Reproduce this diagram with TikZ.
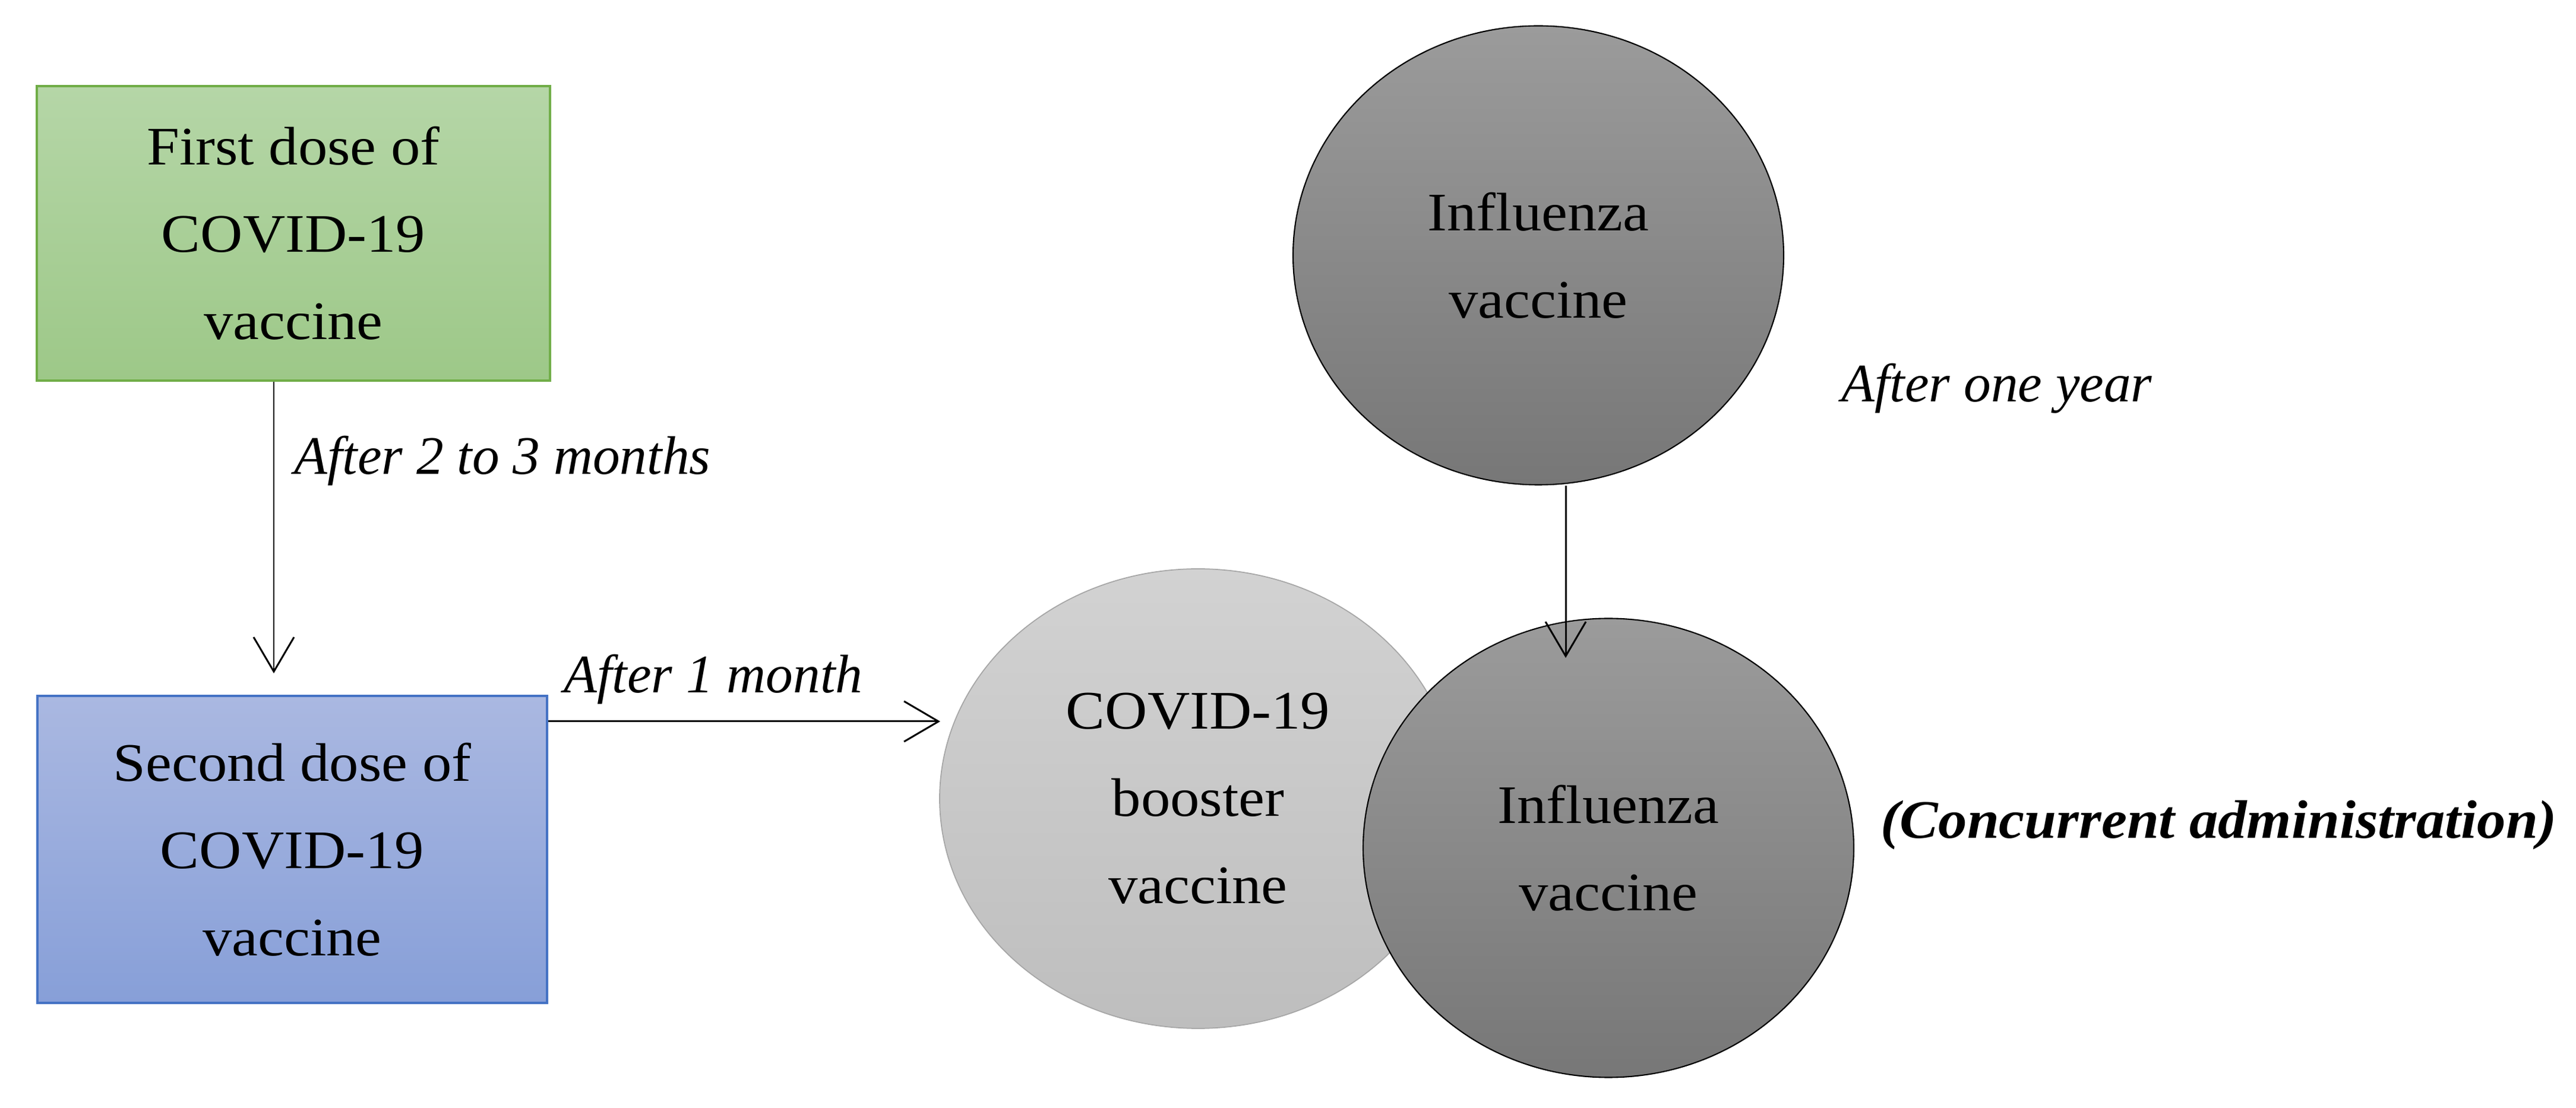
\documentclass[tikz,border=0pt]{standalone}
\usepackage{fontspec}
\setmainfont{Liberation Serif}[UprightFeatures={FakeStretch=1.08},BoldItalicFeatures={FakeStretch=1.06}]
\usetikzlibrary{shapes.geometric,arrows.meta}
\definecolor{greenTop}{HTML}{B5D6A7}
\definecolor{greenBot}{HTML}{9DC888}
\definecolor{greenLine}{HTML}{70AD47}
\definecolor{blueTop}{HTML}{AAB8E1}
\definecolor{blueBot}{HTML}{879FD8}
\definecolor{blueLine}{HTML}{4472C4}
\definecolor{lightTop}{HTML}{D2D2D2}
\definecolor{lightBot}{HTML}{BEBEBE}
\definecolor{lightLine}{HTML}{A6A6A6}
\definecolor{darkTop}{HTML}{9B9B9B}
\definecolor{darkBot}{HTML}{777777}
\tikzset{
  maintext/.style={font=\fontsize{26}{41.8}\selectfont, align=center, text=black},
  dosebox/.style={rectangle, maintext, inner sep=0pt, line width=1pt},
  vacell/.style={ellipse, maintext, inner sep=0pt},
  lbl/.style={font=\fontsize{26}{30}\selectfont\itshape, anchor=base west, inner sep=0pt},
  conn/.style={line width=0.85pt, -{Straight Barb[length=0.58cm,width=0.68cm,line width=0.85pt]}}
}
\begin{document}
\begin{tikzpicture}
\useasboundingbox (0,0) rectangle (43.37,-18.66);
% boxes
\node[dosebox, draw=greenLine, top color=greenTop, bottom color=greenBot,
      minimum width=8.64cm, minimum height=4.96cm] (first) at (4.94,-3.93)
      {First dose of\\COVID-19\\vaccine};
\node[dosebox, draw=blueLine, top color=blueTop, bottom color=blueBot,
      minimum width=8.58cm, minimum height=5.17cm] (second) at (4.92,-14.305)
      {Second dose of\\COVID-19\\vaccine};
% ellipses
\node[vacell, draw=lightLine, line width=0.5pt, top color=lightTop, bottom color=lightBot,
      minimum width=8.70cm, minimum height=7.74cm] (booster) at (20.17,-13.45)
      {COVID-19\\booster\\vaccine};
\node[vacell, draw=black, line width=0.6pt, top color=darkTop, bottom color=darkBot,
      minimum width=8.26cm, minimum height=7.73cm] (flutop) at (25.90,-4.30)
      {Influenza\\vaccine};
\node[vacell, draw=black, line width=0.6pt, top color=darkTop, bottom color=darkBot,
      minimum width=8.26cm, minimum height=7.73cm] (flubot) at (27.08,-14.28)
      {Influenza\\vaccine};
% arrow tips
\coordinate (t1) at (4.61,-11.34);
\coordinate (t2) at (15.83,-12.15);
\coordinate (t3) at (26.36,-11.08);
\draw[conn] (first.south -| t1) -- (t1);
\draw[conn] (second.east |- t2) -- (t2);
\draw[conn] (flutop.south -| t3) -- (t3);
% labels
\node[lbl] (l1) at (4.95,-7.99) {After 2 to 3 months};
\node[lbl] (l2) at (9.49,-11.67) {After 1 month};
\node[lbl] (l3) at (31.00,-6.77) {After one year};
\node[lbl, font=\fontsize{26}{30}\selectfont\bfseries\itshape] (l4) at (31.66,-14.12) {(Concurrent administration)};
\end{tikzpicture}
\end{document}
